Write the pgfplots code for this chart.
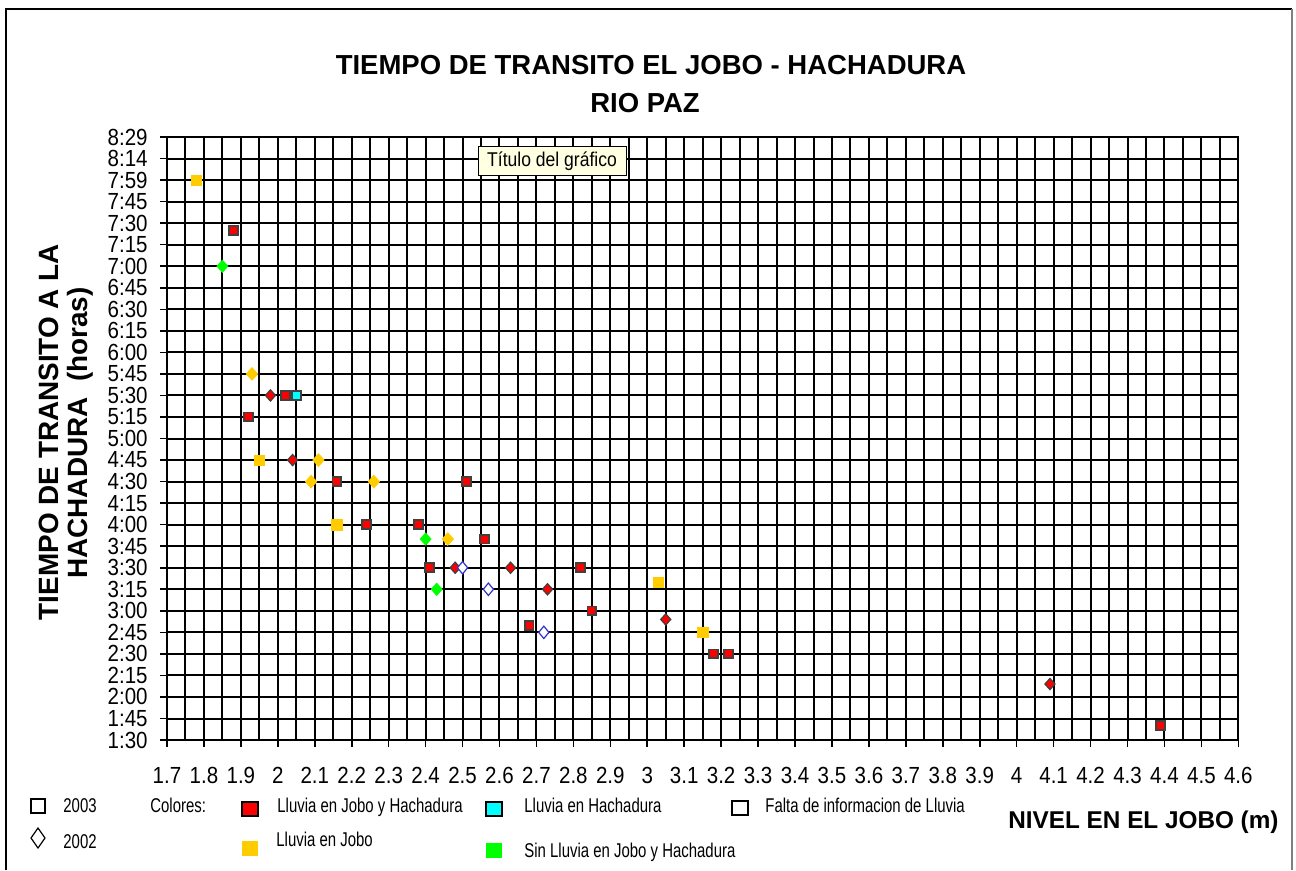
\documentclass[border=0pt]{standalone}
\usepackage{pgfplots}
\pgfplotsset{compat=1.18}
\usepackage{fontspec}
\setmainfont{Liberation Sans}
\newfontfamily\tickfont[FakeStretch=0.88]{Liberation Sans}
\newfontfamily\legfont[FakeStretch=0.75]{Liberation Sans}
\definecolor{cred}{HTML}{FF0000}
\definecolor{cyel}{HTML}{FFCC00}
\definecolor{cgrn}{HTML}{00FF00}
\definecolor{ccyan}{HTML}{00FFFF}
\definecolor{cblue}{HTML}{3333CC}
\definecolor{cedge}{HTML}{404040}
\definecolor{tipbg}{HTML}{FFFFE1}
\begin{document}
\begin{tikzpicture}
\begin{scope}[x=0.5bp,y=-0.5bp]
 \useasboundingbox (0,0) rectangle (1296,870);
 \draw[black,line width=1bp] (6,870) -- (6,9) -- (1292,9);
 \draw[gray,line width=1bp] (1292,9) -- (1292,870);
\end{scope}
\begin{axis}[
  at={(83.5bp,-370bp)}, anchor=south west,
  scale only axis, width=535.65bp, height=301.5bp,
  xmin=1.7, xmax=4.6, ymin=1.5, ymax=8.5,
  xtick={1.7,1.8,1.9,2,2.1,2.2,2.3,2.4,2.5,2.6,2.7,2.8,2.9,3,3.1,3.2,3.3,3.4,3.5,3.6,3.7,3.8,3.9,4,4.1,4.2,4.3,4.4,4.5,4.6},
  xticklabels={1.7,1.8,1.9,2,2.1,2.2,2.3,2.4,2.5,2.6,2.7,2.8,2.9,3,3.1,3.2,3.3,3.4,3.5,3.6,3.7,3.8,3.9,4,4.1,4.2,4.3,4.4,4.5,4.6},
  minor x tick num=1,
  ytick={1.5,1.75,2,2.25,2.5,2.75,3,3.25,3.5,3.75,4,4.25,4.5,4.75,5,5.25,5.5,5.75,6,6.25,6.5,6.75,7,7.25,7.5,7.75,8,8.25,8.5},
  yticklabels={1:30,1:45,2:00,2:15,2:30,2:45,3:00,3:15,3:30,3:45,4:00,4:15,4:30,4:45,5:00,5:15,5:30,5:45,6:00,6:15,6:30,6:45,7:00,7:15,7:30,7:45,7:59,8:14,8:29},
  grid=both,
  major grid style={black,line width=1bp},
  minor grid style={black,line width=1bp},
  axis line style={black,line width=1bp},
  tick align=outside, major tick length=3.5bp, minor tick length=0pt,
  tick style={black,line width=0.8bp},
  xtick pos=left, ytick pos=left,
  ticklabel style={font=\tickfont\fontsize{11.7}{12}\selectfont},
  yticklabel style={anchor=east, inner sep=0pt, xshift=-6bp},
  xticklabel style={anchor=north, inner sep=0pt, yshift=-10bp},
]
\addplot[only marks, mark=square*, mark size=2.6bp, mark options={fill=cyel, draw=cyel, line width=0.3bp}]
 coordinates {(1.78,8.0) (1.95,4.75) (2.16,4.0) (3.03,3.333) (3.15,2.75)};
\addplot[only marks, mark=diamond*, mark size=3.2bp, mark options={fill=cyel, draw=cyel, line width=0.3bp, xscale=1.2}]
 coordinates {(1.93,5.75) (2.11,4.75) (2.09,4.5) (2.26,4.5) (2.46,3.833)};
\addplot[only marks, mark=diamond*, mark size=3.1bp, mark options={fill=cgrn, draw=cgrn, line width=0.3bp, xscale=1.2}]
 coordinates {(1.85,7.0) (2.40,3.833) (2.43,3.25)};
\addplot[only marks, mark=square*, mark size=2.2bp, mark options={fill=cred, draw=cedge, line width=0.9bp}]
 coordinates {(1.88,7.417) (1.92,5.25) (2.02,5.5) (2.16,4.5) (2.24,4.0) (2.38,4.0) (2.41,3.5) (2.51,4.5) (2.56,3.833) (2.68,2.833) (2.82,3.5) (2.85,3.0) (3.18,2.5) (3.22,2.5) (4.39,1.667)};
\addplot[only marks, mark=diamond*, mark size=2.8bp, mark options={fill=cred, draw=cedge, line width=0.6bp, xscale=1.2}]
 coordinates {(1.98,5.5) (2.04,4.75) (2.48,3.5) (2.63,3.5) (2.73,3.25) (3.05,2.9) (4.09,2.15)};
\addplot[only marks, mark=square*, mark size=2.2bp, mark options={fill=ccyan, draw=cedge, line width=0.9bp}]
 coordinates {(2.05,5.5)};
\addplot[only marks, mark=diamond*, mark size=3.1bp, mark options={fill=white, draw=cblue, line width=0.6bp, xscale=1.1}]
 coordinates {(2.50,3.5) (2.57,3.25) (2.72,2.75)};
\end{axis}
\begin{scope}[x=0.5bp,y=-0.5bp]
 % titles
 \node[anchor=base, font=\bfseries\fontsize{13.8}{16}\selectfont, inner sep=0pt] at (651,74) {TIEMPO DE TRANSITO EL JOBO - HACHADURA};
 \node[anchor=base, font=\bfseries\fontsize{13.8}{16}\selectfont, inner sep=0pt] at (645,112) {RIO PAZ};
 \node[anchor=base, rotate=90, font=\bfseries\fontsize{14}{16}\selectfont, inner sep=0pt] at (58,432) {TIEMPO DE TRANSITO A LA};
 \node[anchor=base, rotate=90, font=\bfseries\fontsize{14}{16}\selectfont, inner sep=0pt] at (87,433) {HACHADURA\ \ (horas)};
 \node[anchor=base west, font=\bfseries\fontsize{12.2}{14}\selectfont, inner sep=0pt] at (1008,828) {NIVEL EN EL JOBO (m)};
 % tooltip
 \node[draw=black, fill=tipbg, line width=0.5bp, inner sep=0pt, minimum width=74bp, minimum height=14.5bp, font=\tickfont\fontsize{10}{12}\selectfont] at (552,161) {Título del gráfico};
 % legend
 \begin{scope}[font=\legfont\fontsize{10}{12}\selectfont]
  \draw[black, line width=0.6bp, fill=white] (31,799) rectangle (45,813);
  \node[anchor=base west, inner sep=0pt] at (63,812) {2003};
  \draw[black, line width=0.6bp, fill=white] (38,828) -- (45,838) -- (38,848) -- (31,838) -- cycle;
  \node[anchor=base west, inner sep=0pt] at (63,848) {2002};
  \node[anchor=base west, inner sep=0pt] at (150,812) {Colores:};
  \draw[black, line width=0.6bp, fill=cred] (242,802) rectangle (258,816);
  \node[anchor=base west, inner sep=0pt] at (277,812) {Lluvia en Jobo y Hachadura};
  \draw[black, line width=0.6bp, fill=ccyan] (486,802) rectangle (502,816);
  \node[anchor=base west, inner sep=0pt] at (524,812) {Lluvia en Hachadura};
  \draw[black, line width=0.6bp, fill=white] (732,801) rectangle (748,815);
  \node[anchor=base west, inner sep=0pt] at (765,812) {Falta de informacion de Lluvia};
  \fill[cyel] (242,841) rectangle (258,856);
  \node[anchor=base west, inner sep=0pt] at (276,846) {Lluvia en Jobo};
  \fill[cgrn] (486,843) rectangle (502,858);
  \node[anchor=base west, inner sep=0pt] at (524,857) {Sin Lluvia en Jobo y Hachadura};
 \end{scope}
\end{scope}
\end{tikzpicture}
\end{document}
